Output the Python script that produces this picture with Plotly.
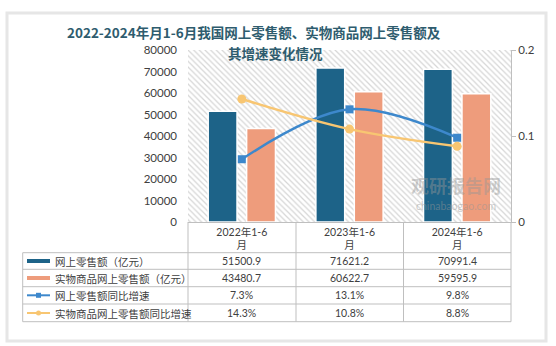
import plotly.graph_objects as go

categories = ["2022年1-6月", "2023年1-6月", "2024年1-6月"]
tick_labels = ["2022年1-6<br>月", "2023年1-6<br>月", "2024年1-6<br>月"]
online_sales = [51500.9, 71621.2, 70991.4]
goods_sales = [43480.7, 60622.7, 59595.9]
online_growth = [0.073, 0.131, 0.098]
goods_growth = [0.143, 0.108, 0.088]
series_names = ["网上零售额（亿元）", "实物商品网上零售额（亿元）", "网上零售额同比增速", "实物商品网上零售额同比增速"]

C_BLUE = "#1D6388"
C_SALMON = "#EE9C7C"
C_LBLUE = "#3D88CC"
C_GOLD = "#F8C672"
GRID = "#BFBFBF"
TXT = "#404040"
FONT = "Lato, Noto Sans CJK SC, sans-serif"
CJK = "Noto Sans CJK SC, sans-serif"

W, H = 556, 346
L, R, T, B = 188, 45, 50, 124
PW, PH = W - L - R, H - T - B


def px(x):
    return (x - L) / PW


def py(y):
    return (H - B - y) / PH


fig = go.Figure()

# hatched plot background (decoration on bottom-most subplot)
fig.add_trace(go.Scatter(
    x=[0, 1, 1, 0, 0], y=[0, 0, 1, 1, 0], xaxis="x", yaxis="y",
    mode="lines", line=dict(width=0), fill="toself", fillcolor="white",
    fillpattern=dict(shape="\\", fgcolor="#D6D6D6", bgcolor="white", size=4, solidity=0.3, fillmode="replace"),
    hoverinfo="skip", showlegend=False))

fig.add_trace(go.Bar(x=categories, y=online_sales, name=series_names[0], xaxis="x2", yaxis="y2",
                     marker=dict(color=C_BLUE, line=dict(color="white", width=1.5)), showlegend=False))
fig.add_trace(go.Bar(x=categories, y=goods_sales, name=series_names[1], xaxis="x2", yaxis="y2",
                     marker=dict(color=C_SALMON, line=dict(color="white", width=1.5)), showlegend=False))
fig.add_trace(go.Scatter(x=categories, y=online_growth, name=series_names[2], xaxis="x2", yaxis="y3",
                         mode="lines+markers", line=dict(color=C_LBLUE, width=2.5, shape="spline"),
                         marker=dict(symbol="square", size=8, color=C_LBLUE), showlegend=False))
fig.add_trace(go.Scatter(x=categories, y=goods_growth, name=series_names[3], xaxis="x2", yaxis="y3",
                         mode="lines+markers", line=dict(color=C_GOLD, width=2.5, shape="spline"),
                         marker=dict(symbol="circle", size=9, color=C_GOLD), showlegend=False))

fig.update_layout(
    width=W, height=H, margin=dict(l=L, r=R, t=T, b=B),
    paper_bgcolor="white", plot_bgcolor="white",
    barmode="group", bargap=0.286, bargroupgap=0.25,
    xaxis=dict(range=[0, 1], visible=False, fixedrange=True),
    yaxis=dict(range=[0, 1], visible=False, fixedrange=True),
    xaxis2=dict(overlaying="x", type="category", categoryarray=categories, tickvals=categories,
                ticktext=tick_labels, showgrid=False, showline=True, linecolor=GRID, linewidth=1,
                ticks="", tickfont=dict(family=FONT, size=10.5, color=TXT)),
    yaxis2=dict(overlaying="y", range=[0, 80000], dtick=10000, showgrid=False, zeroline=False,
                showline=False, ticks="", tickformat="d", ticklabelstandoff=10,
                tickfont=dict(family=FONT, size=11.5, color=TXT)),
    yaxis3=dict(overlaying="y", side="right", range=[0, 0.2], dtick=0.1, showgrid=False, zeroline=False,
                showline=True, linecolor=GRID, ticks="outside", ticklen=4, tickcolor=GRID,
                tickfont=dict(family=FONT, size=11.5, color=TXT)),
)

shapes = []
# card shadow
shapes.append(dict(type="rect", xref="paper", yref="paper", x0=px(7), x1=px(546), y0=py(341), y1=py(13),
                   line=dict(color="#E6E6E6", width=3), layer="below"))

# table grid
row_lines = [252.7, 269.3, 286.7, 304, 321.7]
for yy in row_lines:
    shapes.append(dict(type="line", xref="paper", yref="paper", x0=px(22.7), x1=px(511), y0=py(yy), y1=py(yy),
                       line=dict(color=GRID, width=1)))
for xx in [188, 296, 403.5, 511]:
    shapes.append(dict(type="line", xref="paper", yref="paper", x0=px(xx), x1=px(xx), y0=py(222), y1=py(321.7),
                       line=dict(color=GRID, width=1)))
shapes.append(dict(type="line", xref="paper", yref="paper", x0=px(22.7), x1=px(22.7), y0=py(252.7), y1=py(321.7),
                   line=dict(color=GRID, width=1)))

row_centers = [261, 278, 295.3, 313]
# legend keys
shapes.append(dict(type="rect", xref="paper", yref="paper", x0=px(27), x1=px(50), y0=py(263), y1=py(259),
                   fillcolor=C_BLUE, line=dict(width=0)))
shapes.append(dict(type="rect", xref="paper", yref="paper", x0=px(27), x1=px(50), y0=py(280), y1=py(276),
                   fillcolor=C_SALMON, line=dict(width=0)))
shapes.append(dict(type="line", xref="paper", yref="paper", x0=px(27), x1=px(50), y0=py(295.3), y1=py(295.3),
                   line=dict(color=C_LBLUE, width=2)))
shapes.append(dict(type="rect", xref="paper", yref="paper", x0=px(36), x1=px(41), y0=py(297.8), y1=py(292.8),
                   fillcolor=C_LBLUE, line=dict(width=0)))
shapes.append(dict(type="line", xref="paper", yref="paper", x0=px(27), x1=px(50), y0=py(313), y1=py(313),
                   line=dict(color=C_GOLD, width=2)))
shapes.append(dict(type="circle", xref="paper", yref="paper", x0=px(36), x1=px(41), y0=py(315.5), y1=py(310.5),
                   fillcolor=C_GOLD, line=dict(width=0)))
fig.update_layout(shapes=shapes)

ann = []
# title
ann.append(dict(text="<b>2022-2024年月1-6月我国网上零售额、实物商品网上零售额及</b>", xref="paper", yref="paper",
                x=px(254), y=py(32), showarrow=False, xanchor="center", yanchor="middle",
                font=dict(family=CJK, size=13.5, color="#2E5C6E")))
ann.append(dict(text="<b>其增速变化情况</b>", xref="paper", yref="paper",
                x=px(275), y=py(53), showarrow=False, xanchor="center", yanchor="middle",
                font=dict(family=CJK, size=13.5, color="#2E5C6E")))

# legend column text
for name, yc in zip(series_names, row_centers):
    ann.append(dict(text=name, xref="paper", yref="paper", x=px(53), y=py(yc), showarrow=False,
                    xanchor="left", yanchor="middle", font=dict(family=CJK, size=10.5, color=TXT)))

# table values
rows = [
    [f"{v:.1f}" for v in online_sales],
    [f"{v:.1f}" for v in goods_sales],
    [f"{v * 100:.1f}%" for v in online_growth],
    [f"{v * 100:.1f}%" for v in goods_growth],
]
for vals, yc in zip(rows, row_centers):
    for cat, t in zip(categories, vals):
        ann.append(dict(text=t, xref="x2", yref="paper", x=cat, y=py(yc), showarrow=False,
                        xanchor="center", yanchor="middle", font=dict(family=FONT, size=10.5, color=TXT)))

# watermark
ann.append(dict(text="<b>观研报告网</b>", xref="paper", yref="paper", x=px(456), y=py(185), showarrow=False,
                xanchor="center", yanchor="middle", font=dict(family=CJK, size=18, color="rgba(150,150,150,0.45)")))
ann.append(dict(text="chinabaogao.com", xref="paper", yref="paper", x=px(456), y=py(206), showarrow=False,
                xanchor="center", yanchor="middle", font=dict(family=FONT, size=10.5, color="rgba(150,150,150,0.5)")))
fig.update_layout(annotations=ann)

fig.write_html("out.html")
